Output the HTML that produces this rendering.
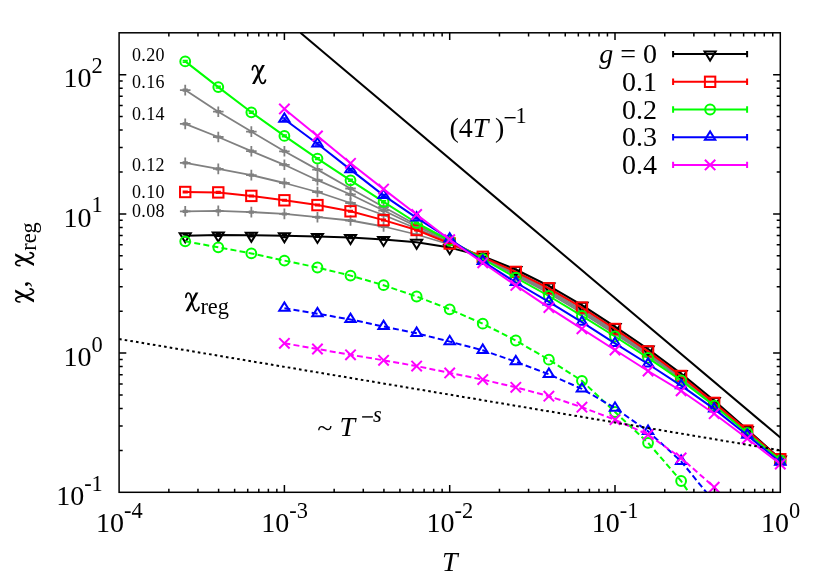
<!DOCTYPE html>
<html><head><meta charset="utf-8"><title>chart</title>
<style>html,body{margin:0;padding:0;background:#fff;}svg{display:block;will-change:transform;}text{font-family:"Liberation Serif",serif;fill:#000;}</style></head><body>
<svg width="830" height="581" viewBox="0 0 830 581">
<rect x="0" y="0" width="830" height="581" fill="#ffffff"/>
<defs><g id="chi"><path d="M10.6,-12.5 L13.4,-12.5 L3.3,6.4 L0.5,6.4 Z" fill="#000" stroke="none"/><path d="M0.9,-7.7 C1.0,-10.6 2.2,-12.1 3.7,-11.9 C5.7,-11.6 6.2,-8.4 7.0,-3.5 C7.9,1.6 8.8,5.8 11.0,5.9 C12.6,6.0 13.6,4.5 14.0,2.5" fill="none" stroke="#000" stroke-width="1.7" stroke-linecap="round"/></g></defs>
<defs><clipPath id="cp"><rect x="119.1" y="32.8" width="661.1999999999999" height="459.5"/></clipPath></defs>
<g>
<polyline points="185.22,211.30 218.28,210.90 251.34,212.10 284.40,213.90 317.46,217.20 350.52,220.50 383.58,226.50 416.64,234.50 449.70,244.50 482.76,256.50 515.82,271.60 548.88,288.00 581.94,307.30 615.00,328.70 648.06,351.10 681.12,375.70 714.18,402.60 747.24,430.30 780.30,458.90" fill="none" stroke="#808080" stroke-width="1.8" stroke-linejoin="round"/>
<path d="M185.22,210.40 L185.22,212.20 M182.62,210.40 L187.82,210.40 M182.62,212.20 L187.82,212.20" stroke="#808080" stroke-width="1.4400000000000002" fill="none"/>
<path d="M179.92,211.30 L190.52,211.30 M185.22,206.00 L185.22,216.60" stroke="#808080" stroke-width="1.8" fill="none"/>
<path d="M218.28,210.00 L218.28,211.80 M215.68,210.00 L220.88,210.00 M215.68,211.80 L220.88,211.80" stroke="#808080" stroke-width="1.4400000000000002" fill="none"/>
<path d="M212.98,210.90 L223.58,210.90 M218.28,205.60 L218.28,216.20" stroke="#808080" stroke-width="1.8" fill="none"/>
<path d="M251.34,211.20 L251.34,213.00 M248.74,211.20 L253.94,211.20 M248.74,213.00 L253.94,213.00" stroke="#808080" stroke-width="1.4400000000000002" fill="none"/>
<path d="M246.04,212.10 L256.64,212.10 M251.34,206.80 L251.34,217.40" stroke="#808080" stroke-width="1.8" fill="none"/>
<path d="M284.40,213.10 L284.40,214.70 M281.80,213.10 L287.00,213.10 M281.80,214.70 L287.00,214.70" stroke="#808080" stroke-width="1.4400000000000002" fill="none"/>
<path d="M279.10,213.90 L289.70,213.90 M284.40,208.60 L284.40,219.20" stroke="#808080" stroke-width="1.8" fill="none"/>
<path d="M317.46,216.40 L317.46,218.00 M314.86,216.40 L320.06,216.40 M314.86,218.00 L320.06,218.00" stroke="#808080" stroke-width="1.4400000000000002" fill="none"/>
<path d="M312.16,217.20 L322.76,217.20 M317.46,211.90 L317.46,222.50" stroke="#808080" stroke-width="1.8" fill="none"/>
<path d="M350.52,219.70 L350.52,221.30 M347.92,219.70 L353.12,219.70 M347.92,221.30 L353.12,221.30" stroke="#808080" stroke-width="1.4400000000000002" fill="none"/>
<path d="M345.22,220.50 L355.82,220.50 M350.52,215.20 L350.52,225.80" stroke="#808080" stroke-width="1.8" fill="none"/>
<path d="M383.58,225.70 L383.58,227.30 M380.98,225.70 L386.18,225.70 M380.98,227.30 L386.18,227.30" stroke="#808080" stroke-width="1.4400000000000002" fill="none"/>
<path d="M378.28,226.50 L388.88,226.50 M383.58,221.20 L383.58,231.80" stroke="#808080" stroke-width="1.8" fill="none"/>
<path d="M411.34,234.50 L421.94,234.50 M416.64,229.20 L416.64,239.80" stroke="#808080" stroke-width="1.8" fill="none"/>
<path d="M444.40,244.50 L455.00,244.50 M449.70,239.20 L449.70,249.80" stroke="#808080" stroke-width="1.8" fill="none"/>
<path d="M477.46,256.50 L488.06,256.50 M482.76,251.20 L482.76,261.80" stroke="#808080" stroke-width="1.8" fill="none"/>
<path d="M510.52,271.60 L521.12,271.60 M515.82,266.30 L515.82,276.90" stroke="#808080" stroke-width="1.8" fill="none"/>
<path d="M543.58,288.00 L554.18,288.00 M548.88,282.70 L548.88,293.30" stroke="#808080" stroke-width="1.8" fill="none"/>
<path d="M576.64,307.30 L587.24,307.30 M581.94,302.00 L581.94,312.60" stroke="#808080" stroke-width="1.8" fill="none"/>
<path d="M609.70,328.70 L620.30,328.70 M615.00,323.40 L615.00,334.00" stroke="#808080" stroke-width="1.8" fill="none"/>
<path d="M642.76,351.10 L653.36,351.10 M648.06,345.80 L648.06,356.40" stroke="#808080" stroke-width="1.8" fill="none"/>
<path d="M675.82,375.70 L686.42,375.70 M681.12,370.40 L681.12,381.00" stroke="#808080" stroke-width="1.8" fill="none"/>
<path d="M708.88,402.60 L719.48,402.60 M714.18,397.30 L714.18,407.90" stroke="#808080" stroke-width="1.8" fill="none"/>
<path d="M741.94,430.30 L752.54,430.30 M747.24,425.00 L747.24,435.60" stroke="#808080" stroke-width="1.8" fill="none"/>
<path d="M775.00,458.90 L785.60,458.90 M780.30,453.60 L780.30,464.20" stroke="#808080" stroke-width="1.8" fill="none"/>
<polyline points="185.22,162.90 218.28,168.90 251.34,175.10 284.40,183.00 317.46,192.00 350.52,203.00 383.58,215.00 416.64,228.50 449.70,242.00 482.76,257.35 515.82,273.35 548.88,290.23 581.94,309.68 615.00,330.88 648.06,353.02 681.12,377.10 714.18,403.57 747.24,431.18 780.30,459.48" fill="none" stroke="#808080" stroke-width="1.8" stroke-linejoin="round"/>
<path d="M185.22,162.00 L185.22,163.80 M182.62,162.00 L187.82,162.00 M182.62,163.80 L187.82,163.80" stroke="#808080" stroke-width="1.4400000000000002" fill="none"/>
<path d="M179.92,162.90 L190.52,162.90 M185.22,157.60 L185.22,168.20" stroke="#808080" stroke-width="1.8" fill="none"/>
<path d="M218.28,168.00 L218.28,169.80 M215.68,168.00 L220.88,168.00 M215.68,169.80 L220.88,169.80" stroke="#808080" stroke-width="1.4400000000000002" fill="none"/>
<path d="M212.98,168.90 L223.58,168.90 M218.28,163.60 L218.28,174.20" stroke="#808080" stroke-width="1.8" fill="none"/>
<path d="M251.34,174.20 L251.34,176.00 M248.74,174.20 L253.94,174.20 M248.74,176.00 L253.94,176.00" stroke="#808080" stroke-width="1.4400000000000002" fill="none"/>
<path d="M246.04,175.10 L256.64,175.10 M251.34,169.80 L251.34,180.40" stroke="#808080" stroke-width="1.8" fill="none"/>
<path d="M284.40,182.20 L284.40,183.80 M281.80,182.20 L287.00,182.20 M281.80,183.80 L287.00,183.80" stroke="#808080" stroke-width="1.4400000000000002" fill="none"/>
<path d="M279.10,183.00 L289.70,183.00 M284.40,177.70 L284.40,188.30" stroke="#808080" stroke-width="1.8" fill="none"/>
<path d="M317.46,191.20 L317.46,192.80 M314.86,191.20 L320.06,191.20 M314.86,192.80 L320.06,192.80" stroke="#808080" stroke-width="1.4400000000000002" fill="none"/>
<path d="M312.16,192.00 L322.76,192.00 M317.46,186.70 L317.46,197.30" stroke="#808080" stroke-width="1.8" fill="none"/>
<path d="M350.52,202.20 L350.52,203.80 M347.92,202.20 L353.12,202.20 M347.92,203.80 L353.12,203.80" stroke="#808080" stroke-width="1.4400000000000002" fill="none"/>
<path d="M345.22,203.00 L355.82,203.00 M350.52,197.70 L350.52,208.30" stroke="#808080" stroke-width="1.8" fill="none"/>
<path d="M383.58,214.20 L383.58,215.80 M380.98,214.20 L386.18,214.20 M380.98,215.80 L386.18,215.80" stroke="#808080" stroke-width="1.4400000000000002" fill="none"/>
<path d="M378.28,215.00 L388.88,215.00 M383.58,209.70 L383.58,220.30" stroke="#808080" stroke-width="1.8" fill="none"/>
<path d="M411.34,228.50 L421.94,228.50 M416.64,223.20 L416.64,233.80" stroke="#808080" stroke-width="1.8" fill="none"/>
<path d="M444.40,242.00 L455.00,242.00 M449.70,236.70 L449.70,247.30" stroke="#808080" stroke-width="1.8" fill="none"/>
<path d="M477.46,257.35 L488.06,257.35 M482.76,252.05 L482.76,262.65" stroke="#808080" stroke-width="1.8" fill="none"/>
<path d="M510.52,273.35 L521.12,273.35 M515.82,268.05 L515.82,278.65" stroke="#808080" stroke-width="1.8" fill="none"/>
<path d="M543.58,290.23 L554.18,290.23 M548.88,284.93 L548.88,295.53" stroke="#808080" stroke-width="1.8" fill="none"/>
<path d="M576.64,309.68 L587.24,309.68 M581.94,304.38 L581.94,314.98" stroke="#808080" stroke-width="1.8" fill="none"/>
<path d="M609.70,330.88 L620.30,330.88 M615.00,325.57 L615.00,336.18" stroke="#808080" stroke-width="1.8" fill="none"/>
<path d="M642.76,353.02 L653.36,353.02 M648.06,347.72 L648.06,358.32" stroke="#808080" stroke-width="1.8" fill="none"/>
<path d="M675.82,377.10 L686.42,377.10 M681.12,371.80 L681.12,382.40" stroke="#808080" stroke-width="1.8" fill="none"/>
<path d="M708.88,403.57 L719.48,403.57 M714.18,398.27 L714.18,408.88" stroke="#808080" stroke-width="1.8" fill="none"/>
<path d="M741.94,431.18 L752.54,431.18 M747.24,425.88 L747.24,436.48" stroke="#808080" stroke-width="1.8" fill="none"/>
<path d="M775.00,459.48 L785.60,459.48 M780.30,454.18 L780.30,464.78" stroke="#808080" stroke-width="1.8" fill="none"/>
<polyline points="185.22,123.90 218.28,137.00 251.34,151.20 284.40,164.80 317.46,180.20 350.52,194.50 383.58,210.50 416.64,226.50 449.70,241.00 482.76,257.79 515.82,274.51 548.88,291.76 581.94,311.33 615.00,332.38 648.06,354.32 681.12,377.98 714.18,404.12 747.24,431.63 780.30,459.69" fill="none" stroke="#808080" stroke-width="1.8" stroke-linejoin="round"/>
<path d="M185.22,123.00 L185.22,124.80 M182.62,123.00 L187.82,123.00 M182.62,124.80 L187.82,124.80" stroke="#808080" stroke-width="1.4400000000000002" fill="none"/>
<path d="M179.92,123.90 L190.52,123.90 M185.22,118.60 L185.22,129.20" stroke="#808080" stroke-width="1.8" fill="none"/>
<path d="M218.28,136.10 L218.28,137.90 M215.68,136.10 L220.88,136.10 M215.68,137.90 L220.88,137.90" stroke="#808080" stroke-width="1.4400000000000002" fill="none"/>
<path d="M212.98,137.00 L223.58,137.00 M218.28,131.70 L218.28,142.30" stroke="#808080" stroke-width="1.8" fill="none"/>
<path d="M251.34,150.30 L251.34,152.10 M248.74,150.30 L253.94,150.30 M248.74,152.10 L253.94,152.10" stroke="#808080" stroke-width="1.4400000000000002" fill="none"/>
<path d="M246.04,151.20 L256.64,151.20 M251.34,145.90 L251.34,156.50" stroke="#808080" stroke-width="1.8" fill="none"/>
<path d="M284.40,164.00 L284.40,165.60 M281.80,164.00 L287.00,164.00 M281.80,165.60 L287.00,165.60" stroke="#808080" stroke-width="1.4400000000000002" fill="none"/>
<path d="M279.10,164.80 L289.70,164.80 M284.40,159.50 L284.40,170.10" stroke="#808080" stroke-width="1.8" fill="none"/>
<path d="M317.46,179.40 L317.46,181.00 M314.86,179.40 L320.06,179.40 M314.86,181.00 L320.06,181.00" stroke="#808080" stroke-width="1.4400000000000002" fill="none"/>
<path d="M312.16,180.20 L322.76,180.20 M317.46,174.90 L317.46,185.50" stroke="#808080" stroke-width="1.8" fill="none"/>
<path d="M350.52,193.70 L350.52,195.30 M347.92,193.70 L353.12,193.70 M347.92,195.30 L353.12,195.30" stroke="#808080" stroke-width="1.4400000000000002" fill="none"/>
<path d="M345.22,194.50 L355.82,194.50 M350.52,189.20 L350.52,199.80" stroke="#808080" stroke-width="1.8" fill="none"/>
<path d="M383.58,209.70 L383.58,211.30 M380.98,209.70 L386.18,209.70 M380.98,211.30 L386.18,211.30" stroke="#808080" stroke-width="1.4400000000000002" fill="none"/>
<path d="M378.28,210.50 L388.88,210.50 M383.58,205.20 L383.58,215.80" stroke="#808080" stroke-width="1.8" fill="none"/>
<path d="M411.34,226.50 L421.94,226.50 M416.64,221.20 L416.64,231.80" stroke="#808080" stroke-width="1.8" fill="none"/>
<path d="M444.40,241.00 L455.00,241.00 M449.70,235.70 L449.70,246.30" stroke="#808080" stroke-width="1.8" fill="none"/>
<path d="M477.46,257.79 L488.06,257.79 M482.76,252.49 L482.76,263.09" stroke="#808080" stroke-width="1.8" fill="none"/>
<path d="M510.52,274.51 L521.12,274.51 M515.82,269.21 L515.82,279.81" stroke="#808080" stroke-width="1.8" fill="none"/>
<path d="M543.58,291.76 L554.18,291.76 M548.88,286.46 L548.88,297.06" stroke="#808080" stroke-width="1.8" fill="none"/>
<path d="M576.64,311.33 L587.24,311.33 M581.94,306.03 L581.94,316.63" stroke="#808080" stroke-width="1.8" fill="none"/>
<path d="M609.70,332.38 L620.30,332.38 M615.00,327.07 L615.00,337.68" stroke="#808080" stroke-width="1.8" fill="none"/>
<path d="M642.76,354.32 L653.36,354.32 M648.06,349.02 L648.06,359.62" stroke="#808080" stroke-width="1.8" fill="none"/>
<path d="M675.82,377.98 L686.42,377.98 M681.12,372.68 L681.12,383.28" stroke="#808080" stroke-width="1.8" fill="none"/>
<path d="M708.88,404.12 L719.48,404.12 M714.18,398.81 L714.18,409.42" stroke="#808080" stroke-width="1.8" fill="none"/>
<path d="M741.94,431.63 L752.54,431.63 M747.24,426.33 L747.24,436.94" stroke="#808080" stroke-width="1.8" fill="none"/>
<path d="M775.00,459.69 L785.60,459.69 M780.30,454.39 L780.30,465.00" stroke="#808080" stroke-width="1.8" fill="none"/>
<polyline points="185.22,90.10 218.28,111.70 251.34,131.60 284.40,151.30 317.46,169.60 350.52,188.50 383.58,207.00 416.64,225.00 449.70,240.50 482.76,258.23 515.82,275.67 548.88,293.31 581.94,313.00 615.00,333.88 648.06,355.62 681.12,378.86 714.18,404.66 747.24,432.09 780.30,459.92" fill="none" stroke="#808080" stroke-width="1.8" stroke-linejoin="round"/>
<path d="M185.22,89.20 L185.22,91.00 M182.62,89.20 L187.82,89.20 M182.62,91.00 L187.82,91.00" stroke="#808080" stroke-width="1.4400000000000002" fill="none"/>
<path d="M179.92,90.10 L190.52,90.10 M185.22,84.80 L185.22,95.40" stroke="#808080" stroke-width="1.8" fill="none"/>
<path d="M218.28,110.80 L218.28,112.60 M215.68,110.80 L220.88,110.80 M215.68,112.60 L220.88,112.60" stroke="#808080" stroke-width="1.4400000000000002" fill="none"/>
<path d="M212.98,111.70 L223.58,111.70 M218.28,106.40 L218.28,117.00" stroke="#808080" stroke-width="1.8" fill="none"/>
<path d="M251.34,130.70 L251.34,132.50 M248.74,130.70 L253.94,130.70 M248.74,132.50 L253.94,132.50" stroke="#808080" stroke-width="1.4400000000000002" fill="none"/>
<path d="M246.04,131.60 L256.64,131.60 M251.34,126.30 L251.34,136.90" stroke="#808080" stroke-width="1.8" fill="none"/>
<path d="M284.40,150.50 L284.40,152.10 M281.80,150.50 L287.00,150.50 M281.80,152.10 L287.00,152.10" stroke="#808080" stroke-width="1.4400000000000002" fill="none"/>
<path d="M279.10,151.30 L289.70,151.30 M284.40,146.00 L284.40,156.60" stroke="#808080" stroke-width="1.8" fill="none"/>
<path d="M317.46,168.80 L317.46,170.40 M314.86,168.80 L320.06,168.80 M314.86,170.40 L320.06,170.40" stroke="#808080" stroke-width="1.4400000000000002" fill="none"/>
<path d="M312.16,169.60 L322.76,169.60 M317.46,164.30 L317.46,174.90" stroke="#808080" stroke-width="1.8" fill="none"/>
<path d="M350.52,187.70 L350.52,189.30 M347.92,187.70 L353.12,187.70 M347.92,189.30 L353.12,189.30" stroke="#808080" stroke-width="1.4400000000000002" fill="none"/>
<path d="M345.22,188.50 L355.82,188.50 M350.52,183.20 L350.52,193.80" stroke="#808080" stroke-width="1.8" fill="none"/>
<path d="M383.58,206.20 L383.58,207.80 M380.98,206.20 L386.18,206.20 M380.98,207.80 L386.18,207.80" stroke="#808080" stroke-width="1.4400000000000002" fill="none"/>
<path d="M378.28,207.00 L388.88,207.00 M383.58,201.70 L383.58,212.30" stroke="#808080" stroke-width="1.8" fill="none"/>
<path d="M411.34,225.00 L421.94,225.00 M416.64,219.70 L416.64,230.30" stroke="#808080" stroke-width="1.8" fill="none"/>
<path d="M444.40,240.50 L455.00,240.50 M449.70,235.20 L449.70,245.80" stroke="#808080" stroke-width="1.8" fill="none"/>
<path d="M477.46,258.23 L488.06,258.23 M482.76,252.93 L482.76,263.53" stroke="#808080" stroke-width="1.8" fill="none"/>
<path d="M510.52,275.67 L521.12,275.67 M515.82,270.37 L515.82,280.97" stroke="#808080" stroke-width="1.8" fill="none"/>
<path d="M543.58,293.31 L554.18,293.31 M548.88,288.00 L548.88,298.61" stroke="#808080" stroke-width="1.8" fill="none"/>
<path d="M576.64,313.00 L587.24,313.00 M581.94,307.69 L581.94,318.30" stroke="#808080" stroke-width="1.8" fill="none"/>
<path d="M609.70,333.88 L620.30,333.88 M615.00,328.57 L615.00,339.18" stroke="#808080" stroke-width="1.8" fill="none"/>
<path d="M642.76,355.62 L653.36,355.62 M648.06,350.32 L648.06,360.93" stroke="#808080" stroke-width="1.8" fill="none"/>
<path d="M675.82,378.86 L686.42,378.86 M681.12,373.56 L681.12,384.16" stroke="#808080" stroke-width="1.8" fill="none"/>
<path d="M708.88,404.66 L719.48,404.66 M714.18,399.36 L714.18,409.96" stroke="#808080" stroke-width="1.8" fill="none"/>
<path d="M741.94,432.09 L752.54,432.09 M747.24,426.79 L747.24,437.39" stroke="#808080" stroke-width="1.8" fill="none"/>
<path d="M775.00,459.92 L785.60,459.92 M780.30,454.62 L780.30,465.22" stroke="#808080" stroke-width="1.8" fill="none"/>
<polyline points="185.22,235.70 218.28,235.00 251.34,235.30 284.40,235.80 317.46,236.40 350.52,237.60 383.58,239.40 416.64,242.20 449.70,247.60 482.76,256.20 515.82,269.50 548.88,285.90 581.94,305.20 615.00,326.60 648.06,349.00 681.12,373.60 714.18,400.50 747.24,429.40 780.30,458.90" fill="none" stroke="#000000" stroke-width="2.0" stroke-linejoin="round"/>
<path d="M185.22,234.70 L185.22,236.70 M182.62,234.70 L187.82,234.70 M182.62,236.70 L187.82,236.70" stroke="#000000" stroke-width="1.6" fill="none"/>
<path d="M179.66,233.22 L190.78,233.22 L185.22,242.23 Z" stroke="#000000" stroke-width="2.0" fill="none" stroke-linejoin="miter"/>
<path d="M218.28,233.70 L218.28,236.30 M215.68,233.70 L220.88,233.70 M215.68,236.30 L220.88,236.30" stroke="#000000" stroke-width="1.6" fill="none"/>
<path d="M212.72,232.52 L223.84,232.52 L218.28,241.53 Z" stroke="#000000" stroke-width="2.0" fill="none" stroke-linejoin="miter"/>
<path d="M251.34,234.00 L251.34,236.60 M248.74,234.00 L253.94,234.00 M248.74,236.60 L253.94,236.60" stroke="#000000" stroke-width="1.6" fill="none"/>
<path d="M245.78,232.82 L256.90,232.82 L251.34,241.83 Z" stroke="#000000" stroke-width="2.0" fill="none" stroke-linejoin="miter"/>
<path d="M284.40,234.20 L284.40,237.40 M281.80,234.20 L287.00,234.20 M281.80,237.40 L287.00,237.40" stroke="#000000" stroke-width="1.6" fill="none"/>
<path d="M278.84,233.32 L289.96,233.32 L284.40,242.33 Z" stroke="#000000" stroke-width="2.0" fill="none" stroke-linejoin="miter"/>
<path d="M317.46,235.60 L317.46,237.20 M314.86,235.60 L320.06,235.60 M314.86,237.20 L320.06,237.20" stroke="#000000" stroke-width="1.6" fill="none"/>
<path d="M311.90,233.92 L323.02,233.92 L317.46,242.93 Z" stroke="#000000" stroke-width="2.0" fill="none" stroke-linejoin="miter"/>
<path d="M350.52,236.80 L350.52,238.40 M347.92,236.80 L353.12,236.80 M347.92,238.40 L353.12,238.40" stroke="#000000" stroke-width="1.6" fill="none"/>
<path d="M344.96,235.12 L356.08,235.12 L350.52,244.13 Z" stroke="#000000" stroke-width="2.0" fill="none" stroke-linejoin="miter"/>
<path d="M383.58,238.80 L383.58,240.00 M380.98,238.80 L386.18,238.80 M380.98,240.00 L386.18,240.00" stroke="#000000" stroke-width="1.6" fill="none"/>
<path d="M378.02,236.92 L389.14,236.92 L383.58,245.93 Z" stroke="#000000" stroke-width="2.0" fill="none" stroke-linejoin="miter"/>
<path d="M411.08,239.72 L422.20,239.72 L416.64,248.73 Z" stroke="#000000" stroke-width="2.0" fill="none" stroke-linejoin="miter"/>
<path d="M444.14,245.12 L455.26,245.12 L449.70,254.13 Z" stroke="#000000" stroke-width="2.0" fill="none" stroke-linejoin="miter"/>
<path d="M477.20,253.72 L488.32,253.72 L482.76,262.73 Z" stroke="#000000" stroke-width="2.0" fill="none" stroke-linejoin="miter"/>
<path d="M510.26,267.02 L521.38,267.02 L515.82,276.03 Z" stroke="#000000" stroke-width="2.0" fill="none" stroke-linejoin="miter"/>
<path d="M543.32,283.42 L554.44,283.42 L548.88,292.43 Z" stroke="#000000" stroke-width="2.0" fill="none" stroke-linejoin="miter"/>
<path d="M576.38,302.72 L587.50,302.72 L581.94,311.73 Z" stroke="#000000" stroke-width="2.0" fill="none" stroke-linejoin="miter"/>
<path d="M609.44,324.12 L620.56,324.12 L615.00,333.13 Z" stroke="#000000" stroke-width="2.0" fill="none" stroke-linejoin="miter"/>
<path d="M642.50,346.52 L653.62,346.52 L648.06,355.53 Z" stroke="#000000" stroke-width="2.0" fill="none" stroke-linejoin="miter"/>
<path d="M675.56,371.12 L686.68,371.12 L681.12,380.13 Z" stroke="#000000" stroke-width="2.0" fill="none" stroke-linejoin="miter"/>
<path d="M708.62,398.02 L719.74,398.02 L714.18,407.03 Z" stroke="#000000" stroke-width="2.0" fill="none" stroke-linejoin="miter"/>
<path d="M741.68,426.92 L752.80,426.92 L747.24,435.93 Z" stroke="#000000" stroke-width="2.0" fill="none" stroke-linejoin="miter"/>
<path d="M774.74,456.42 L785.86,456.42 L780.30,465.43 Z" stroke="#000000" stroke-width="2.0" fill="none" stroke-linejoin="miter"/>
<polyline points="185.22,192.00 218.28,192.40 251.34,195.90 284.40,200.30 317.46,205.10 350.52,211.30 383.58,220.10 416.64,230.00 449.70,243.50 482.76,256.80 515.82,271.90 548.88,288.30 581.94,307.60 615.00,329.00 648.06,351.40 681.12,376.00 714.18,402.90 747.24,430.60 780.30,459.20" fill="none" stroke="#ff0000" stroke-width="2.0" stroke-linejoin="round"/>
<path d="M185.22,191.20 L185.22,192.80 M182.62,191.20 L187.82,191.20 M182.62,192.80 L187.82,192.80" stroke="#ff0000" stroke-width="1.6" fill="none"/>
<rect x="180.02" y="186.80" width="10.40" height="10.40" stroke="#ff0000" stroke-width="2.0" fill="none"/>
<path d="M218.28,191.60 L218.28,193.20 M215.68,191.60 L220.88,191.60 M215.68,193.20 L220.88,193.20" stroke="#ff0000" stroke-width="1.6" fill="none"/>
<rect x="213.08" y="187.20" width="10.40" height="10.40" stroke="#ff0000" stroke-width="2.0" fill="none"/>
<path d="M251.34,195.20 L251.34,196.60 M248.74,195.20 L253.94,195.20 M248.74,196.60 L253.94,196.60" stroke="#ff0000" stroke-width="1.6" fill="none"/>
<rect x="246.14" y="190.70" width="10.40" height="10.40" stroke="#ff0000" stroke-width="2.0" fill="none"/>
<path d="M284.40,199.60 L284.40,201.00 M281.80,199.60 L287.00,199.60 M281.80,201.00 L287.00,201.00" stroke="#ff0000" stroke-width="1.6" fill="none"/>
<rect x="279.20" y="195.10" width="10.40" height="10.40" stroke="#ff0000" stroke-width="2.0" fill="none"/>
<path d="M317.46,204.40 L317.46,205.80 M314.86,204.40 L320.06,204.40 M314.86,205.80 L320.06,205.80" stroke="#ff0000" stroke-width="1.6" fill="none"/>
<rect x="312.26" y="199.90" width="10.40" height="10.40" stroke="#ff0000" stroke-width="2.0" fill="none"/>
<path d="M350.52,210.60 L350.52,212.00 M347.92,210.60 L353.12,210.60 M347.92,212.00 L353.12,212.00" stroke="#ff0000" stroke-width="1.6" fill="none"/>
<rect x="345.32" y="206.10" width="10.40" height="10.40" stroke="#ff0000" stroke-width="2.0" fill="none"/>
<path d="M383.58,219.40 L383.58,220.80 M380.98,219.40 L386.18,219.40 M380.98,220.80 L386.18,220.80" stroke="#ff0000" stroke-width="1.6" fill="none"/>
<rect x="378.38" y="214.90" width="10.40" height="10.40" stroke="#ff0000" stroke-width="2.0" fill="none"/>
<path d="M416.64,229.30 L416.64,230.70 M414.04,229.30 L419.24,229.30 M414.04,230.70 L419.24,230.70" stroke="#ff0000" stroke-width="1.6" fill="none"/>
<rect x="411.44" y="224.80" width="10.40" height="10.40" stroke="#ff0000" stroke-width="2.0" fill="none"/>
<rect x="444.50" y="238.30" width="10.40" height="10.40" stroke="#ff0000" stroke-width="2.0" fill="none"/>
<rect x="477.56" y="251.60" width="10.40" height="10.40" stroke="#ff0000" stroke-width="2.0" fill="none"/>
<rect x="510.62" y="266.70" width="10.40" height="10.40" stroke="#ff0000" stroke-width="2.0" fill="none"/>
<rect x="543.68" y="283.10" width="10.40" height="10.40" stroke="#ff0000" stroke-width="2.0" fill="none"/>
<rect x="576.74" y="302.40" width="10.40" height="10.40" stroke="#ff0000" stroke-width="2.0" fill="none"/>
<rect x="609.80" y="323.80" width="10.40" height="10.40" stroke="#ff0000" stroke-width="2.0" fill="none"/>
<rect x="642.86" y="346.20" width="10.40" height="10.40" stroke="#ff0000" stroke-width="2.0" fill="none"/>
<rect x="675.92" y="370.80" width="10.40" height="10.40" stroke="#ff0000" stroke-width="2.0" fill="none"/>
<rect x="708.98" y="397.70" width="10.40" height="10.40" stroke="#ff0000" stroke-width="2.0" fill="none"/>
<rect x="742.04" y="425.40" width="10.40" height="10.40" stroke="#ff0000" stroke-width="2.0" fill="none"/>
<rect x="775.10" y="454.00" width="10.40" height="10.40" stroke="#ff0000" stroke-width="2.0" fill="none"/>
<polyline points="185.22,61.40 218.28,87.10 251.34,112.30 284.40,135.90 317.46,158.60 350.52,180.30 383.58,201.80 416.64,223.00 449.70,240.50 482.76,259.00 515.82,277.70 548.88,296.00 581.94,315.90 615.00,336.50 648.06,357.90 681.12,380.40 714.18,405.60 747.24,432.90 780.30,460.30" fill="none" stroke="#00ff00" stroke-width="2.0" stroke-linejoin="round"/>
<path d="M185.22,60.50 L185.22,62.30 M182.62,60.50 L187.82,60.50 M182.62,62.30 L187.82,62.30" stroke="#00ff00" stroke-width="1.6" fill="none"/>
<circle cx="185.22" cy="61.40" r="4.90" stroke="#00ff00" stroke-width="2.0" fill="none"/>
<path d="M218.28,86.20 L218.28,88.00 M215.68,86.20 L220.88,86.20 M215.68,88.00 L220.88,88.00" stroke="#00ff00" stroke-width="1.6" fill="none"/>
<circle cx="218.28" cy="87.10" r="4.90" stroke="#00ff00" stroke-width="2.0" fill="none"/>
<path d="M251.34,111.40 L251.34,113.20 M248.74,111.40 L253.94,111.40 M248.74,113.20 L253.94,113.20" stroke="#00ff00" stroke-width="1.6" fill="none"/>
<circle cx="251.34" cy="112.30" r="4.90" stroke="#00ff00" stroke-width="2.0" fill="none"/>
<path d="M284.40,135.00 L284.40,136.80 M281.80,135.00 L287.00,135.00 M281.80,136.80 L287.00,136.80" stroke="#00ff00" stroke-width="1.6" fill="none"/>
<circle cx="284.40" cy="135.90" r="4.90" stroke="#00ff00" stroke-width="2.0" fill="none"/>
<path d="M317.46,157.70 L317.46,159.50 M314.86,157.70 L320.06,157.70 M314.86,159.50 L320.06,159.50" stroke="#00ff00" stroke-width="1.6" fill="none"/>
<circle cx="317.46" cy="158.60" r="4.90" stroke="#00ff00" stroke-width="2.0" fill="none"/>
<path d="M350.52,179.40 L350.52,181.20 M347.92,179.40 L353.12,179.40 M347.92,181.20 L353.12,181.20" stroke="#00ff00" stroke-width="1.6" fill="none"/>
<circle cx="350.52" cy="180.30" r="4.90" stroke="#00ff00" stroke-width="2.0" fill="none"/>
<path d="M383.58,200.90 L383.58,202.70 M380.98,200.90 L386.18,200.90 M380.98,202.70 L386.18,202.70" stroke="#00ff00" stroke-width="1.6" fill="none"/>
<circle cx="383.58" cy="201.80" r="4.90" stroke="#00ff00" stroke-width="2.0" fill="none"/>
<path d="M416.64,222.20 L416.64,223.80 M414.04,222.20 L419.24,222.20 M414.04,223.80 L419.24,223.80" stroke="#00ff00" stroke-width="1.6" fill="none"/>
<circle cx="416.64" cy="223.00" r="4.90" stroke="#00ff00" stroke-width="2.0" fill="none"/>
<circle cx="449.70" cy="240.50" r="4.90" stroke="#00ff00" stroke-width="2.0" fill="none"/>
<circle cx="482.76" cy="259.00" r="4.90" stroke="#00ff00" stroke-width="2.0" fill="none"/>
<circle cx="515.82" cy="277.70" r="4.90" stroke="#00ff00" stroke-width="2.0" fill="none"/>
<circle cx="548.88" cy="296.00" r="4.90" stroke="#00ff00" stroke-width="2.0" fill="none"/>
<circle cx="581.94" cy="315.90" r="4.90" stroke="#00ff00" stroke-width="2.0" fill="none"/>
<circle cx="615.00" cy="336.50" r="4.90" stroke="#00ff00" stroke-width="2.0" fill="none"/>
<circle cx="648.06" cy="357.90" r="4.90" stroke="#00ff00" stroke-width="2.0" fill="none"/>
<circle cx="681.12" cy="380.40" r="4.90" stroke="#00ff00" stroke-width="2.0" fill="none"/>
<circle cx="714.18" cy="405.60" r="4.90" stroke="#00ff00" stroke-width="2.0" fill="none"/>
<circle cx="747.24" cy="432.90" r="4.90" stroke="#00ff00" stroke-width="2.0" fill="none"/>
<circle cx="780.30" cy="460.30" r="4.90" stroke="#00ff00" stroke-width="2.0" fill="none"/>
<polyline points="284.40,119.20 317.46,143.80 350.52,169.60 383.58,195.40 416.64,217.90 449.70,239.00 482.76,261.30 515.82,282.50 548.88,301.80 581.94,322.20 615.00,343.40 648.06,364.00 681.12,385.60 714.18,408.90 747.24,435.20 780.30,462.20" fill="none" stroke="#0000ff" stroke-width="2.0" stroke-linejoin="round"/>
<path d="M284.40,118.00 L284.40,120.40 M281.80,118.00 L287.00,118.00 M281.80,120.40 L287.00,120.40" stroke="#0000ff" stroke-width="1.6" fill="none"/>
<path d="M279.20,121.80 L289.60,121.80 L284.40,113.38 Z" stroke="#0000ff" stroke-width="2.0" fill="none" stroke-linejoin="miter"/>
<path d="M317.46,142.60 L317.46,145.00 M314.86,142.60 L320.06,142.60 M314.86,145.00 L320.06,145.00" stroke="#0000ff" stroke-width="1.6" fill="none"/>
<path d="M312.26,146.40 L322.66,146.40 L317.46,137.98 Z" stroke="#0000ff" stroke-width="2.0" fill="none" stroke-linejoin="miter"/>
<path d="M350.52,168.60 L350.52,170.60 M347.92,168.60 L353.12,168.60 M347.92,170.60 L353.12,170.60" stroke="#0000ff" stroke-width="1.6" fill="none"/>
<path d="M345.32,172.20 L355.72,172.20 L350.52,163.78 Z" stroke="#0000ff" stroke-width="2.0" fill="none" stroke-linejoin="miter"/>
<path d="M383.58,194.50 L383.58,196.30 M380.98,194.50 L386.18,194.50 M380.98,196.30 L386.18,196.30" stroke="#0000ff" stroke-width="1.6" fill="none"/>
<path d="M378.38,198.00 L388.78,198.00 L383.58,189.58 Z" stroke="#0000ff" stroke-width="2.0" fill="none" stroke-linejoin="miter"/>
<path d="M416.64,217.10 L416.64,218.70 M414.04,217.10 L419.24,217.10 M414.04,218.70 L419.24,218.70" stroke="#0000ff" stroke-width="1.6" fill="none"/>
<path d="M411.44,220.50 L421.84,220.50 L416.64,212.08 Z" stroke="#0000ff" stroke-width="2.0" fill="none" stroke-linejoin="miter"/>
<path d="M444.50,241.60 L454.90,241.60 L449.70,233.18 Z" stroke="#0000ff" stroke-width="2.0" fill="none" stroke-linejoin="miter"/>
<path d="M477.56,263.90 L487.96,263.90 L482.76,255.48 Z" stroke="#0000ff" stroke-width="2.0" fill="none" stroke-linejoin="miter"/>
<path d="M510.62,285.10 L521.02,285.10 L515.82,276.68 Z" stroke="#0000ff" stroke-width="2.0" fill="none" stroke-linejoin="miter"/>
<path d="M543.68,304.40 L554.08,304.40 L548.88,295.98 Z" stroke="#0000ff" stroke-width="2.0" fill="none" stroke-linejoin="miter"/>
<path d="M576.74,324.80 L587.14,324.80 L581.94,316.38 Z" stroke="#0000ff" stroke-width="2.0" fill="none" stroke-linejoin="miter"/>
<path d="M609.80,346.00 L620.20,346.00 L615.00,337.58 Z" stroke="#0000ff" stroke-width="2.0" fill="none" stroke-linejoin="miter"/>
<path d="M642.86,366.60 L653.26,366.60 L648.06,358.18 Z" stroke="#0000ff" stroke-width="2.0" fill="none" stroke-linejoin="miter"/>
<path d="M675.92,388.20 L686.32,388.20 L681.12,379.78 Z" stroke="#0000ff" stroke-width="2.0" fill="none" stroke-linejoin="miter"/>
<path d="M708.98,411.50 L719.38,411.50 L714.18,403.08 Z" stroke="#0000ff" stroke-width="2.0" fill="none" stroke-linejoin="miter"/>
<path d="M742.04,437.80 L752.44,437.80 L747.24,429.38 Z" stroke="#0000ff" stroke-width="2.0" fill="none" stroke-linejoin="miter"/>
<path d="M775.10,464.80 L785.50,464.80 L780.30,456.38 Z" stroke="#0000ff" stroke-width="2.0" fill="none" stroke-linejoin="miter"/>
<polyline points="284.40,108.90 317.46,135.90 350.52,163.30 383.58,189.10 416.64,214.50 449.70,239.70 482.76,262.80 515.82,285.40 548.88,307.60 581.94,328.80 615.00,350.00 648.06,371.00 681.12,390.80 714.18,413.70 747.24,438.50 780.30,464.00" fill="none" stroke="#ff00ff" stroke-width="2.0" stroke-linejoin="round"/>
<path d="M279.20,103.70 L289.60,114.10 M279.20,114.10 L289.60,103.70" stroke="#ff00ff" stroke-width="2.0" fill="none"/>
<path d="M312.26,130.70 L322.66,141.10 M312.26,141.10 L322.66,130.70" stroke="#ff00ff" stroke-width="2.0" fill="none"/>
<path d="M345.32,158.10 L355.72,168.50 M345.32,168.50 L355.72,158.10" stroke="#ff00ff" stroke-width="2.0" fill="none"/>
<path d="M378.38,183.90 L388.78,194.30 M378.38,194.30 L388.78,183.90" stroke="#ff00ff" stroke-width="2.0" fill="none"/>
<path d="M411.44,209.30 L421.84,219.70 M411.44,219.70 L421.84,209.30" stroke="#ff00ff" stroke-width="2.0" fill="none"/>
<path d="M444.50,234.50 L454.90,244.90 M444.50,244.90 L454.90,234.50" stroke="#ff00ff" stroke-width="2.0" fill="none"/>
<path d="M477.56,257.60 L487.96,268.00 M477.56,268.00 L487.96,257.60" stroke="#ff00ff" stroke-width="2.0" fill="none"/>
<path d="M510.62,280.20 L521.02,290.60 M510.62,290.60 L521.02,280.20" stroke="#ff00ff" stroke-width="2.0" fill="none"/>
<path d="M543.68,302.40 L554.08,312.80 M543.68,312.80 L554.08,302.40" stroke="#ff00ff" stroke-width="2.0" fill="none"/>
<path d="M576.74,323.60 L587.14,334.00 M576.74,334.00 L587.14,323.60" stroke="#ff00ff" stroke-width="2.0" fill="none"/>
<path d="M609.80,344.80 L620.20,355.20 M609.80,355.20 L620.20,344.80" stroke="#ff00ff" stroke-width="2.0" fill="none"/>
<path d="M642.86,365.80 L653.26,376.20 M642.86,376.20 L653.26,365.80" stroke="#ff00ff" stroke-width="2.0" fill="none"/>
<path d="M675.92,385.60 L686.32,396.00 M675.92,396.00 L686.32,385.60" stroke="#ff00ff" stroke-width="2.0" fill="none"/>
<path d="M708.98,408.50 L719.38,418.90 M708.98,418.90 L719.38,408.50" stroke="#ff00ff" stroke-width="2.0" fill="none"/>
<path d="M742.04,433.30 L752.44,443.70 M742.04,443.70 L752.44,433.30" stroke="#ff00ff" stroke-width="2.0" fill="none"/>
<path d="M775.10,458.80 L785.50,469.20 M775.10,469.20 L785.50,458.80" stroke="#ff00ff" stroke-width="2.0" fill="none"/>
</g>
<g>
<polyline points="185.22,241.30 218.28,247.30 251.34,253.40 284.40,260.60 317.46,267.50 350.52,275.60 383.58,285.20 416.64,296.50 449.70,309.30 482.76,323.70 515.82,340.50 548.88,359.70 581.94,380.80 615.00,412.00 648.06,442.80 681.12,481.00 714.18,530.00" fill="none" stroke="#00ff00" stroke-width="2.0" stroke-dasharray="6 3.2" stroke-linejoin="round" clip-path="url(#cp)"/>
<circle cx="185.22" cy="241.30" r="4.90" stroke="#00ff00" stroke-width="2.0" fill="none"/>
<circle cx="218.28" cy="247.30" r="4.90" stroke="#00ff00" stroke-width="2.0" fill="none"/>
<circle cx="251.34" cy="253.40" r="4.90" stroke="#00ff00" stroke-width="2.0" fill="none"/>
<circle cx="284.40" cy="260.60" r="4.90" stroke="#00ff00" stroke-width="2.0" fill="none"/>
<circle cx="317.46" cy="267.50" r="4.90" stroke="#00ff00" stroke-width="2.0" fill="none"/>
<circle cx="350.52" cy="275.60" r="4.90" stroke="#00ff00" stroke-width="2.0" fill="none"/>
<circle cx="383.58" cy="285.20" r="4.90" stroke="#00ff00" stroke-width="2.0" fill="none"/>
<circle cx="416.64" cy="296.50" r="4.90" stroke="#00ff00" stroke-width="2.0" fill="none"/>
<circle cx="449.70" cy="309.30" r="4.90" stroke="#00ff00" stroke-width="2.0" fill="none"/>
<circle cx="482.76" cy="323.70" r="4.90" stroke="#00ff00" stroke-width="2.0" fill="none"/>
<circle cx="515.82" cy="340.50" r="4.90" stroke="#00ff00" stroke-width="2.0" fill="none"/>
<circle cx="548.88" cy="359.70" r="4.90" stroke="#00ff00" stroke-width="2.0" fill="none"/>
<circle cx="581.94" cy="380.80" r="4.90" stroke="#00ff00" stroke-width="2.0" fill="none"/>
<circle cx="615.00" cy="412.00" r="4.90" stroke="#00ff00" stroke-width="2.0" fill="none"/>
<circle cx="648.06" cy="442.80" r="4.90" stroke="#00ff00" stroke-width="2.0" fill="none"/>
<circle cx="681.12" cy="481.00" r="4.90" stroke="#00ff00" stroke-width="2.0" fill="none"/>
<polyline points="284.40,308.20 317.46,313.70 350.52,319.50 383.58,326.50 416.64,333.30 449.70,341.60 482.76,350.30 515.82,361.70 548.88,374.30 581.94,388.90 615.00,408.10 648.06,431.30 681.12,461.30 714.18,502.00" fill="none" stroke="#0000ff" stroke-width="2.0" stroke-dasharray="6 3.2" stroke-linejoin="round" clip-path="url(#cp)"/>
<path d="M279.20,310.80 L289.60,310.80 L284.40,302.38 Z" stroke="#0000ff" stroke-width="2.0" fill="none" stroke-linejoin="miter"/>
<path d="M312.26,316.30 L322.66,316.30 L317.46,307.88 Z" stroke="#0000ff" stroke-width="2.0" fill="none" stroke-linejoin="miter"/>
<path d="M345.32,322.10 L355.72,322.10 L350.52,313.68 Z" stroke="#0000ff" stroke-width="2.0" fill="none" stroke-linejoin="miter"/>
<path d="M378.38,329.10 L388.78,329.10 L383.58,320.68 Z" stroke="#0000ff" stroke-width="2.0" fill="none" stroke-linejoin="miter"/>
<path d="M411.44,335.90 L421.84,335.90 L416.64,327.48 Z" stroke="#0000ff" stroke-width="2.0" fill="none" stroke-linejoin="miter"/>
<path d="M444.50,344.20 L454.90,344.20 L449.70,335.78 Z" stroke="#0000ff" stroke-width="2.0" fill="none" stroke-linejoin="miter"/>
<path d="M477.56,352.90 L487.96,352.90 L482.76,344.48 Z" stroke="#0000ff" stroke-width="2.0" fill="none" stroke-linejoin="miter"/>
<path d="M510.62,364.30 L521.02,364.30 L515.82,355.88 Z" stroke="#0000ff" stroke-width="2.0" fill="none" stroke-linejoin="miter"/>
<path d="M543.68,376.90 L554.08,376.90 L548.88,368.48 Z" stroke="#0000ff" stroke-width="2.0" fill="none" stroke-linejoin="miter"/>
<path d="M576.74,391.50 L587.14,391.50 L581.94,383.08 Z" stroke="#0000ff" stroke-width="2.0" fill="none" stroke-linejoin="miter"/>
<path d="M609.80,410.70 L620.20,410.70 L615.00,402.28 Z" stroke="#0000ff" stroke-width="2.0" fill="none" stroke-linejoin="miter"/>
<path d="M642.86,433.90 L653.26,433.90 L648.06,425.48 Z" stroke="#0000ff" stroke-width="2.0" fill="none" stroke-linejoin="miter"/>
<path d="M675.92,463.90 L686.32,463.90 L681.12,455.48 Z" stroke="#0000ff" stroke-width="2.0" fill="none" stroke-linejoin="miter"/>
<polyline points="284.40,343.30 317.46,349.00 350.52,354.80 383.58,360.30 416.64,366.10 449.70,372.90 482.76,379.60 515.82,387.30 548.88,396.20 581.94,407.20 615.00,419.70 648.06,434.70 681.12,457.90 714.18,487.20 747.24,525.00" fill="none" stroke="#ff00ff" stroke-width="2.0" stroke-dasharray="6 3.2" stroke-linejoin="round" clip-path="url(#cp)"/>
<path d="M279.20,338.10 L289.60,348.50 M279.20,348.50 L289.60,338.10" stroke="#ff00ff" stroke-width="2.0" fill="none"/>
<path d="M312.26,343.80 L322.66,354.20 M312.26,354.20 L322.66,343.80" stroke="#ff00ff" stroke-width="2.0" fill="none"/>
<path d="M345.32,349.60 L355.72,360.00 M345.32,360.00 L355.72,349.60" stroke="#ff00ff" stroke-width="2.0" fill="none"/>
<path d="M378.38,355.10 L388.78,365.50 M378.38,365.50 L388.78,355.10" stroke="#ff00ff" stroke-width="2.0" fill="none"/>
<path d="M411.44,360.90 L421.84,371.30 M411.44,371.30 L421.84,360.90" stroke="#ff00ff" stroke-width="2.0" fill="none"/>
<path d="M444.50,367.70 L454.90,378.10 M444.50,378.10 L454.90,367.70" stroke="#ff00ff" stroke-width="2.0" fill="none"/>
<path d="M477.56,374.40 L487.96,384.80 M477.56,384.80 L487.96,374.40" stroke="#ff00ff" stroke-width="2.0" fill="none"/>
<path d="M510.62,382.10 L521.02,392.50 M510.62,392.50 L521.02,382.10" stroke="#ff00ff" stroke-width="2.0" fill="none"/>
<path d="M543.68,391.00 L554.08,401.40 M543.68,401.40 L554.08,391.00" stroke="#ff00ff" stroke-width="2.0" fill="none"/>
<path d="M576.74,402.00 L587.14,412.40 M576.74,412.40 L587.14,402.00" stroke="#ff00ff" stroke-width="2.0" fill="none"/>
<path d="M609.80,414.50 L620.20,424.90 M609.80,424.90 L620.20,414.50" stroke="#ff00ff" stroke-width="2.0" fill="none"/>
<path d="M642.86,429.50 L653.26,439.90 M642.86,439.90 L653.26,429.50" stroke="#ff00ff" stroke-width="2.0" fill="none"/>
<path d="M675.92,452.70 L686.32,463.10 M675.92,463.10 L686.32,452.70" stroke="#ff00ff" stroke-width="2.0" fill="none"/>
<path d="M708.98,482.00 L719.38,492.40 M708.98,492.40 L719.38,482.00" stroke="#ff00ff" stroke-width="2.0" fill="none"/>
</g>
<g clip-path="url(#cp)">
<line x1="300.42" y1="32.80" x2="780.30" y2="437.61" stroke="#000" stroke-width="2"/>
<line x1="119.10" y1="339.0" x2="780.30" y2="450.3" stroke="#000" stroke-width="2" stroke-dasharray="2.6 3.1"/>
</g>
<path d="M168.86,492.30 v-3.6 M168.86,32.80 v3.6 M197.97,492.30 v-3.6 M197.97,32.80 v3.6 M218.62,492.30 v-3.6 M218.62,32.80 v3.6 M234.64,492.30 v-3.6 M234.64,32.80 v3.6 M247.73,492.30 v-3.6 M247.73,32.80 v3.6 M258.79,492.30 v-3.6 M258.79,32.80 v3.6 M268.38,492.30 v-3.6 M268.38,32.80 v3.6 M276.84,492.30 v-3.6 M276.84,32.80 v3.6 M284.40,492.30 v-7.2 M284.40,32.80 v7.2 M334.16,492.30 v-3.6 M334.16,32.80 v3.6 M363.27,492.30 v-3.6 M363.27,32.80 v3.6 M383.92,492.30 v-3.6 M383.92,32.80 v3.6 M399.94,492.30 v-3.6 M399.94,32.80 v3.6 M413.03,492.30 v-3.6 M413.03,32.80 v3.6 M424.09,492.30 v-3.6 M424.09,32.80 v3.6 M433.68,492.30 v-3.6 M433.68,32.80 v3.6 M442.14,492.30 v-3.6 M442.14,32.80 v3.6 M449.70,492.30 v-7.2 M449.70,32.80 v7.2 M499.46,492.30 v-3.6 M499.46,32.80 v3.6 M528.57,492.30 v-3.6 M528.57,32.80 v3.6 M549.22,492.30 v-3.6 M549.22,32.80 v3.6 M565.24,492.30 v-3.6 M565.24,32.80 v3.6 M578.33,492.30 v-3.6 M578.33,32.80 v3.6 M589.39,492.30 v-3.6 M589.39,32.80 v3.6 M598.98,492.30 v-3.6 M598.98,32.80 v3.6 M607.44,492.30 v-3.6 M607.44,32.80 v3.6 M615.00,492.30 v-7.2 M615.00,32.80 v7.2 M664.76,492.30 v-3.6 M664.76,32.80 v3.6 M693.87,492.30 v-3.6 M693.87,32.80 v3.6 M714.52,492.30 v-3.6 M714.52,32.80 v3.6 M730.54,492.30 v-3.6 M730.54,32.80 v3.6 M743.63,492.30 v-3.6 M743.63,32.80 v3.6 M754.69,492.30 v-3.6 M754.69,32.80 v3.6 M764.28,492.30 v-3.6 M764.28,32.80 v3.6 M772.74,492.30 v-3.6 M772.74,32.80 v3.6 M119.10,450.40 h3.6 M780.30,450.40 h-3.6 M119.10,425.89 h3.6 M780.30,425.89 h-3.6 M119.10,408.49 h3.6 M780.30,408.49 h-3.6 M119.10,395.00 h3.6 M780.30,395.00 h-3.6 M119.10,383.98 h3.6 M780.30,383.98 h-3.6 M119.10,374.66 h3.6 M780.30,374.66 h-3.6 M119.10,366.59 h3.6 M780.30,366.59 h-3.6 M119.10,359.47 h3.6 M780.30,359.47 h-3.6 M119.10,353.10 h7.2 M780.30,353.10 h-7.2 M119.10,311.20 h3.6 M780.30,311.20 h-3.6 M119.10,286.69 h3.6 M780.30,286.69 h-3.6 M119.10,269.29 h3.6 M780.30,269.29 h-3.6 M119.10,255.81 h3.6 M780.30,255.81 h-3.6 M119.10,244.78 h3.6 M780.30,244.78 h-3.6 M119.10,235.46 h3.6 M780.30,235.46 h-3.6 M119.10,227.39 h3.6 M780.30,227.39 h-3.6 M119.10,220.27 h3.6 M780.30,220.27 h-3.6 M119.10,213.90 h7.2 M780.30,213.90 h-7.2 M119.10,172.00 h3.6 M780.30,172.00 h-3.6 M119.10,147.49 h3.6 M780.30,147.49 h-3.6 M119.10,130.10 h3.6 M780.30,130.10 h-3.6 M119.10,116.61 h3.6 M780.30,116.61 h-3.6 M119.10,105.58 h3.6 M780.30,105.58 h-3.6 M119.10,96.27 h3.6 M780.30,96.27 h-3.6 M119.10,88.19 h3.6 M780.30,88.19 h-3.6 M119.10,81.07 h3.6 M780.30,81.07 h-3.6 M119.10,74.70 h7.2 M780.30,74.70 h-7.2" stroke="#000" stroke-width="1.5" fill="none"/>
<rect x="119.1" y="32.8" width="661.20" height="459.50" fill="none" stroke="#000" stroke-width="1.5"/>
<text x="63.60" y="87.30" font-size="28">10</text>
<text x="91.60" y="73.10" font-size="22.4">2</text>
<text x="63.60" y="226.50" font-size="28">10</text>
<text x="91.60" y="212.30" font-size="22.4">1</text>
<text x="63.60" y="365.70" font-size="28">10</text>
<text x="91.60" y="351.50" font-size="22.4">0</text>
<text x="56.14" y="504.90" font-size="28">10</text>
<text x="84.14" y="490.70" font-size="22.4">-1</text>
<text x="95.97" y="531.80" font-size="28">10</text>
<text x="123.97" y="517.60" font-size="22.4">-4</text>
<text x="261.27" y="531.80" font-size="28">10</text>
<text x="289.27" y="517.60" font-size="22.4">-3</text>
<text x="426.57" y="531.80" font-size="28">10</text>
<text x="454.57" y="517.60" font-size="22.4">-2</text>
<text x="591.87" y="531.80" font-size="28">10</text>
<text x="619.87" y="517.60" font-size="22.4">-1</text>
<text x="760.90" y="531.80" font-size="28">10</text>
<text x="788.90" y="517.60" font-size="22.4">0</text>
<text x="449.7" y="571" font-size="28" font-style="italic" text-anchor="middle">T</text>
<g transform="translate(27.6,302.9) rotate(-90)"><use href="#chi" x="0" y="0"/><text x="15.4" y="0" font-size="28">,</text><use href="#chi" x="36.3" y="0"/><text x="52.1" y="8.4" font-size="22.4">reg</text></g>
<use href="#chi" x="251.5" y="77.5"/>
<use href="#chi" x="185.0" y="304.9"/>
<text x="200.4" y="313.6" font-size="22.4">reg</text>
<text x="449.4" y="136.7" font-size="28">(4<tspan font-style="italic">T</tspan></text>
<text x="495.0" y="136.7" font-size="28">)</text>
<line x1="504.6" y1="117.7" x2="515.6" y2="117.7" stroke="#000" stroke-width="1.4"/>
<text x="515.4" y="122.5" font-size="22.4">1</text>
<text x="317.3" y="436.5" font-size="28">~</text>
<text x="339.5" y="435.7" font-size="28" font-style="italic">T</text>
<line x1="362.1" y1="416.9" x2="372.9" y2="416.9" stroke="#000" stroke-width="1.4"/>
<text x="373.1" y="422.1" font-size="22.4" font-style="italic">s</text>
<text x="132.0" y="60.8" font-size="18" letter-spacing="0.35">0.20</text>
<text x="132.0" y="87.8" font-size="18" letter-spacing="0.35">0.16</text>
<text x="132.0" y="120.2" font-size="18" letter-spacing="0.35">0.14</text>
<text x="132.0" y="170.8" font-size="18" letter-spacing="0.35">0.12</text>
<text x="132.0" y="197.8" font-size="18" letter-spacing="0.35">0.10</text>
<text x="132.0" y="216.7" font-size="18" letter-spacing="0.35">0.08</text>
<text x="657" y="63.20" font-size="28" text-anchor="end"><tspan font-style="italic">g</tspan> = 0</text>
<path d="M673.1,54.1 L747.1,54.1 M673.1,50.9 v6.4 M747.1,50.9 v6.4" stroke="#000000" stroke-width="2.0" fill="none"/>
<path d="M704.54,51.62 L715.66,51.62 L710.10,60.63 Z" stroke="#000000" stroke-width="2.0" fill="none" stroke-linejoin="miter"/>
<text x="657" y="90.90" font-size="28" text-anchor="end">0.1</text>
<path d="M673.1,81.8 L747.1,81.8 M673.1,78.6 v6.4 M747.1,78.6 v6.4" stroke="#ff0000" stroke-width="2.0" fill="none"/>
<rect x="704.90" y="76.60" width="10.40" height="10.40" stroke="#ff0000" stroke-width="2.0" fill="none"/>
<text x="657" y="118.60" font-size="28" text-anchor="end">0.2</text>
<path d="M673.1,109.5 L747.1,109.5 M673.1,106.3 v6.4 M747.1,106.3 v6.4" stroke="#00ff00" stroke-width="2.0" fill="none"/>
<circle cx="710.10" cy="109.50" r="4.90" stroke="#00ff00" stroke-width="2.0" fill="none"/>
<text x="657" y="146.30" font-size="28" text-anchor="end">0.3</text>
<path d="M673.1,137.2 L747.1,137.2 M673.1,134.0 v6.4 M747.1,134.0 v6.4" stroke="#0000ff" stroke-width="2.0" fill="none"/>
<path d="M704.90,139.80 L715.30,139.80 L710.10,131.38 Z" stroke="#0000ff" stroke-width="2.0" fill="none" stroke-linejoin="miter"/>
<text x="657" y="174.00" font-size="28" text-anchor="end">0.4</text>
<path d="M673.1,164.9 L747.1,164.9 M673.1,161.70000000000002 v6.4 M747.1,161.70000000000002 v6.4" stroke="#ff00ff" stroke-width="2.0" fill="none"/>
<path d="M704.90,159.70 L715.30,170.10 M704.90,170.10 L715.30,159.70" stroke="#ff00ff" stroke-width="2.0" fill="none"/>
</svg></body></html>
